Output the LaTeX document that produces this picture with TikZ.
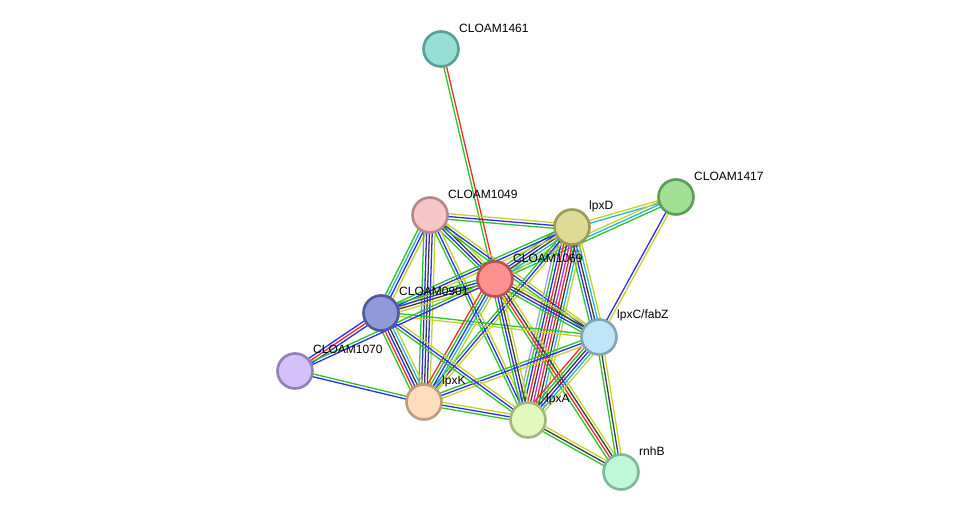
\documentclass[tikz,border=0pt]{standalone}
\usepackage{fontspec}
\setmainfont{Liberation Sans}
\usetikzlibrary{calc}
\definecolor{cg}{RGB}{45,195,45}
\definecolor{cb}{RGB}{45,45,235}
\definecolor{ck}{RGB}{60,60,60}
\definecolor{cr}{RGB}{240,45,45}
\definecolor{cc}{RGB}{40,180,220}
\definecolor{cy}{RGB}{195,212,40}
\definecolor{cm}{RGB}{210,40,210}
\definecolor{cl}{RGB}{160,160,250}
\newcommand{\medge}[3]{%
  \foreach \c [count=\i] in {#3} {\xdef\ncnt{\i}}%
  \foreach \c [count=\i] in {#3} {%
    \pgfmathsetmacro\off{(\i-(\ncnt+1)/2)*2.8}%
    \draw[line width=1.3pt, color=\c] ($(#1)!\off pt!90:(#2)$) -- ($(#2)!\off pt!-90:(#1)$);
  }%
}
\tikzset{
  prot/.style={circle, minimum size=35pt, inner sep=0pt, line width=2.6pt},
  lab/.style={anchor=west, font=\fontsize{12}{14}\selectfont, inner sep=0pt}
}
\begin{document}
\begin{tikzpicture}[x=1pt,y=-1pt]
\useasboundingbox[fill=white] (0,0) rectangle (975,518);
\coordinate (n1461) at (441,49);
\coordinate (n1049) at (430,215);
\coordinate (lpxD) at (572,227);
\coordinate (n1417) at (676,197);
\coordinate (n1069) at (495,279);
\coordinate (n0901) at (381,313);
\coordinate (lpxC) at (599,337);
\coordinate (n1070) at (295,371);
\coordinate (lpxK) at (424,402);
\coordinate (lpxA) at (528,420);
\coordinate (rnhB) at (621,472);
% edges
\medge{n1461}{n1069}{cg,cr}
\medge{n1049}{lpxD}{cg,cb,cy}
\medge{n1049}{n1069}{cg,cb,ck,cy}
\medge{n1049}{lpxC}{cg,cb,cy}
\medge{n1049}{n0901}{cg,cc,cb,cy}
\medge{n1049}{lpxK}{cg,cb,ck,cb,cy}
\medge{n1049}{lpxA}{cg,cb,cy}
\medge{lpxD}{n1417}{cc,cy}
\medge{n1069}{n1417}{cg,cc,cy}
\medge{n1417}{lpxC}{cb,cy}
\medge{lpxD}{n1069}{cg,cb,ck,cc,cy}
\medge{lpxD}{n0901}{cg,cb,cy}
\medge{lpxD}{lpxC}{cg,cb,ck,cc,cy}
\medge{lpxD}{lpxA}{cl,cg,cb,cr,ck,cm,cr,ck,cc,cy}
\medge{lpxD}{lpxK}{cg,cb,cy}
\medge{n1069}{rnhB}{cg,cr,ck,cy}
\medge{lpxA}{rnhB}{cg,ck,cy}
\medge{lpxC}{rnhB}{cg,ck,cy}
\medge{lpxC}{lpxA}{cr,cg,ck,cb,cc,cy}
\medge{lpxC}{lpxK}{cg,cb,cy}
\medge{lpxC}{n0901}{cg,cy}
\medge{n1069}{lpxC}{cg,cb,ck,cy}
\medge{n1069}{lpxA}{cg,cb,ck,cy}
\medge{n1069}{lpxK}{cr,cg,cb,cc,cy}
\medge{n1069}{n0901}{cg,cb,ck,cy}
\medge{n0901}{lpxK}{cg,cr,cb,ck,cc,cy}
\medge{n0901}{lpxA}{cg,cb,cy}
\medge{n0901}{n1070}{cb,cr,cb}
\medge{n1070}{n1069}{cb,cg}
\medge{n1070}{lpxK}{cb,cg}
\medge{lpxK}{lpxA}{cg,cb,cy}
% nodes
\node[prot, fill={rgb,255:red,151;green,223;blue,213}, draw={rgb,255:red,90;green,158;blue,152}] (N1461) at (n1461) {};
\node[prot, fill={rgb,255:red,246;green,198;blue,200}, draw={rgb,255:red,184;green,136;blue,136}] (N1049) at (n1049) {};
\node[prot, fill={rgb,255:red,223;green,219;blue,150}, draw={rgb,255:red,158;green,154;blue,90}] (NlpxD) at (lpxD) {};
\node[prot, fill={rgb,255:red,159;green,224;blue,149}, draw={rgb,255:red,93;green,158;blue,85}] (N1417) at (n1417) {};
\node[prot, fill={rgb,255:red,255;green,144;blue,144}, draw={rgb,255:red,191;green,80;blue,80}] (N1069) at (n1069) {};
\node[prot, fill={rgb,255:red,144;green,154;blue,217}, draw={rgb,255:red,78;green,90;blue,153}] (N0901) at (n0901) {};
\node[prot, fill={rgb,255:red,192;green,229;blue,248}, draw={rgb,255:red,127;green,165;blue,186}] (NlpxC) at (lpxC) {};
\node[prot, fill={rgb,255:red,212;green,193;blue,249}, draw={rgb,255:red,148;green,128;blue,181}] (N1070) at (n1070) {};
\node[prot, fill={rgb,255:red,254;green,220;blue,189}, draw={rgb,255:red,191;green,156;blue,125}] (NlpxK) at (lpxK) {};
\node[prot, fill={rgb,255:red,226;green,249;blue,190}, draw={rgb,255:red,162;green,185;blue,126}] (NlpxA) at (lpxA) {};
\node[prot, fill={rgb,255:red,191;green,248;blue,216}, draw={rgb,255:red,127;green,184;blue,152}] (NrnhB) at (rnhB) {};
% labels
\node[lab] (L1461) at (459,28) {CLOAM1461};
\node[lab] (L1049) at (448,194) {CLOAM1049};
\node[lab] (LlpxD) at (589,206) {lpxD};
\node[lab] (L1417) at (694,176) {CLOAM1417};
\node[lab] (L1069) at (513,258) {CLOAM1069};
\node[lab] (L0901) at (399,291) {CLOAM0901};
\node[lab] (LlpxC) at (617,315) {lpxC/fabZ};
\node[lab] (L1070) at (313,349) {CLOAM1070};
\node[lab] (LlpxK) at (442,381) {lpxK};
\node[lab] (LlpxA) at (546,399) {lpxA};
\node[lab] (LrnhB) at (639,451) {rnhB};
\end{tikzpicture}
\end{document}
